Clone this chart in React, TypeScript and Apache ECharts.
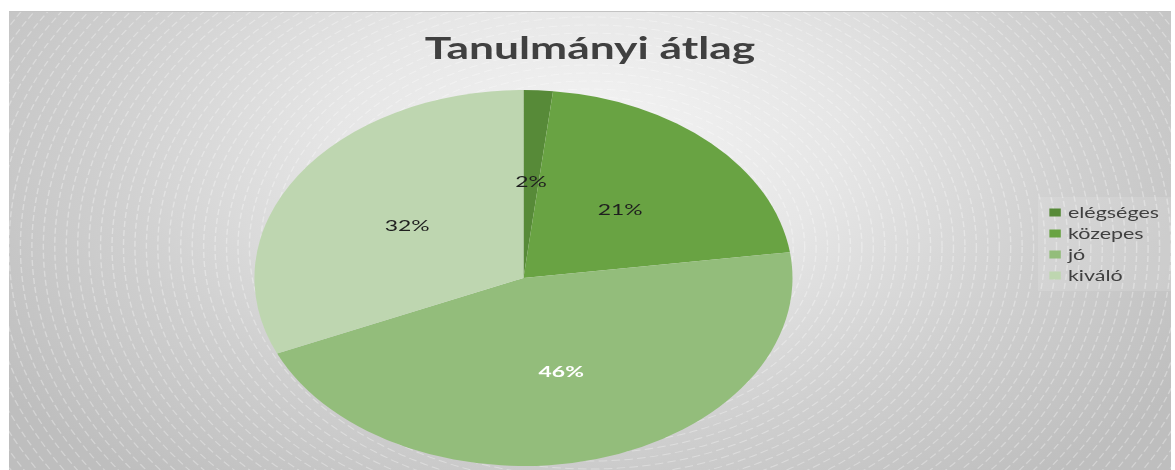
import React, { useEffect, useRef } from "react";
import * as echarts from "echarts";

const categories = ["elégséges", "közepes", "jó", "kiváló"];
const values = [1, 12, 26, 18];
const colors = ["#578a38", "#69a343", "#93bd7b", "#bed6b0"];
const labelColors = ["#1f1f1f", "#1f1f1f", "#ffffff", "#1f1f1f"];
const labelWeights = ["normal", "normal", "bold", "normal"];
const titleText = "Tanulmányi átlag";

const OUTER_W = 1162;
const OUTER_H = 459;
const INNER_W = 812;
const SX = OUTER_W / INNER_W;

export default function App() {
  const ref = useRef<HTMLDivElement>(null);
  useEffect(() => {
    const chart = echarts.init(ref.current!, null, { renderer: "svg" });
    const total = values.reduce((a, b) => a + b, 0);
    const rings: any[] = [];
    for (let r = 14; r < 720; r += 8) {
      rings.push({
        type: "circle",
        silent: true,
        z: 0,
        shape: { cx: 406, cy: 235, r },
        style: { fill: "none", stroke: "rgba(255,255,255,0.32)", lineWidth: 1, lineDash: [6, 3] },
      });
    }
    chart.setOption({
      animation: false,
      backgroundColor: "transparent",
      graphic: rings,
      title: {
        text: titleText,
        left: "center",
        top: 19,
        padding: [0, 0, 0, 16],
        textStyle: { fontFamily: "Lato", fontWeight: "bold", fontSize: 31, color: "#404040" },
      },
      legend: {
        orient: "vertical",
        left: 719,
        top: 185,
        padding: [8, 10, 8, 8],
        backgroundColor: "rgba(255,255,255,0.12)",
        itemWidth: 8,
        itemHeight: 8,
        itemGap: 6,
        icon: "rect",
        data: categories,
        textStyle: { fontFamily: "Lato", fontSize: 15, color: "#404040" },
      },
      series: [
        {
          type: "pie",
          z: 2,
          center: [359.5, 266],
          radius: 188,
          startAngle: 90,
          clockwise: true,
          emphasis: { disabled: true },
          labelLine: { show: false },
          label: {
            show: true,
            position: "inside",
            fontFamily: "Lato",
            fontSize: 16,
            formatter: (p: any) => Math.round((p.value / total) * 100) + "%",
          },
          data: categories.map((name, i) => ({
            name,
            value: values[i],
            itemStyle: { color: colors[i] },
            label: { color: labelColors[i], fontWeight: labelWeights[i] },
          })),
        },
      ],
    });
    return () => chart.dispose();
  }, []);
  return (
    <div
      style={{
        position: "fixed",
        left: 9,
        top: 11,
        width: OUTER_W,
        height: OUTER_H,
        overflow: "hidden",
        borderTop: "1px solid #c3c3c3",
        boxSizing: "border-box",
        background:
          "radial-gradient(ellipse 62% 95% at 50% 28%, #f4f4f4 0%, #e6e6e6 35%, #cfcfcf 68%, #bebebe 100%)",
      }}
    >
      <div
        ref={ref}
        style={{ width: INNER_W, height: OUTER_H, transform: `scaleX(${SX})`, transformOrigin: "0 0" }}
      />
    </div>
  );
}
